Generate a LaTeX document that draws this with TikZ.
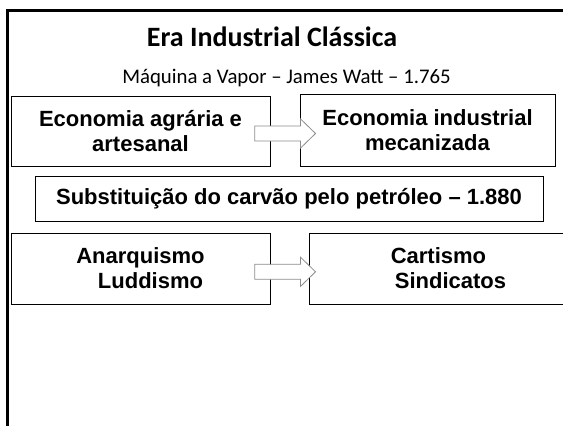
\documentclass[tikz,border=0pt]{standalone}
\usepackage{fontspec}
\setmainfont{Liberation Sans}
\newfontfamily\calibri{Carlito}
\usetikzlibrary{positioning,calc}

\begin{document}
\begin{tikzpicture}[x=1pt,y=-1pt,
 box/.style={draw,line width=1pt,rectangle,inner sep=0pt,align=center,
   font=\fontsize{22}{25}\selectfont\bfseries},
 blockarrow/.pic={\draw[black!45,fill=white,line width=0.8pt,line join=miter]
   (0,-7.5) -- ++(45.7,0) -- ++(0,-7.1) -- ++(15,14.6) -- ++(-15,14.6)
   -- ++(0,-7.1) -- ++(-45.7,0) -- cycle;}]
\useasboundingbox (0,0) rectangle (563,426);
% slide frame
\draw[line width=2.5pt] (7.5,440) |- (580,10.3);
\node[font=\calibri\bfseries\fontsize{28}{31}\selectfont,anchor=base] (title) at (272,46) {Era Industrial Clássica};
\node[font=\calibri\fontsize{20.8}{24}\selectfont,anchor=base] (watt) at (286.5,83) {Máquina a Vapor – James Watt – 1.765};
\node[box,minimum width=259pt,minimum height=70pt] (agr) at (140.5,131) {Economia agrária e\\artesanal};
\node[box,minimum width=255pt,minimum height=72pt] (ind) at (427.5,130) {Economia industrial\\mecanizada};
\node[box,minimum width=508pt,minimum height=45pt] (oil) at (289,198.5) {Substituição do carvão pelo petróleo – 1.880};
\node[box,minimum width=259pt,minimum height=71pt] (ana) at (140.5,268.5) {Anarquismo\\\hspace*{20pt}Luddismo};
\node[box,minimum width=259pt,minimum height=71pt] (car) at (438.5,268.5) {Cartismo\\\hspace*{24pt}Sindicatos};
\pic at ($(agr.east)+(-15.7,2.5)$) {blockarrow};
\pic at ($(ana.east)+(-15.7,3.3)$) {blockarrow};
\end{tikzpicture}
\end{document}
